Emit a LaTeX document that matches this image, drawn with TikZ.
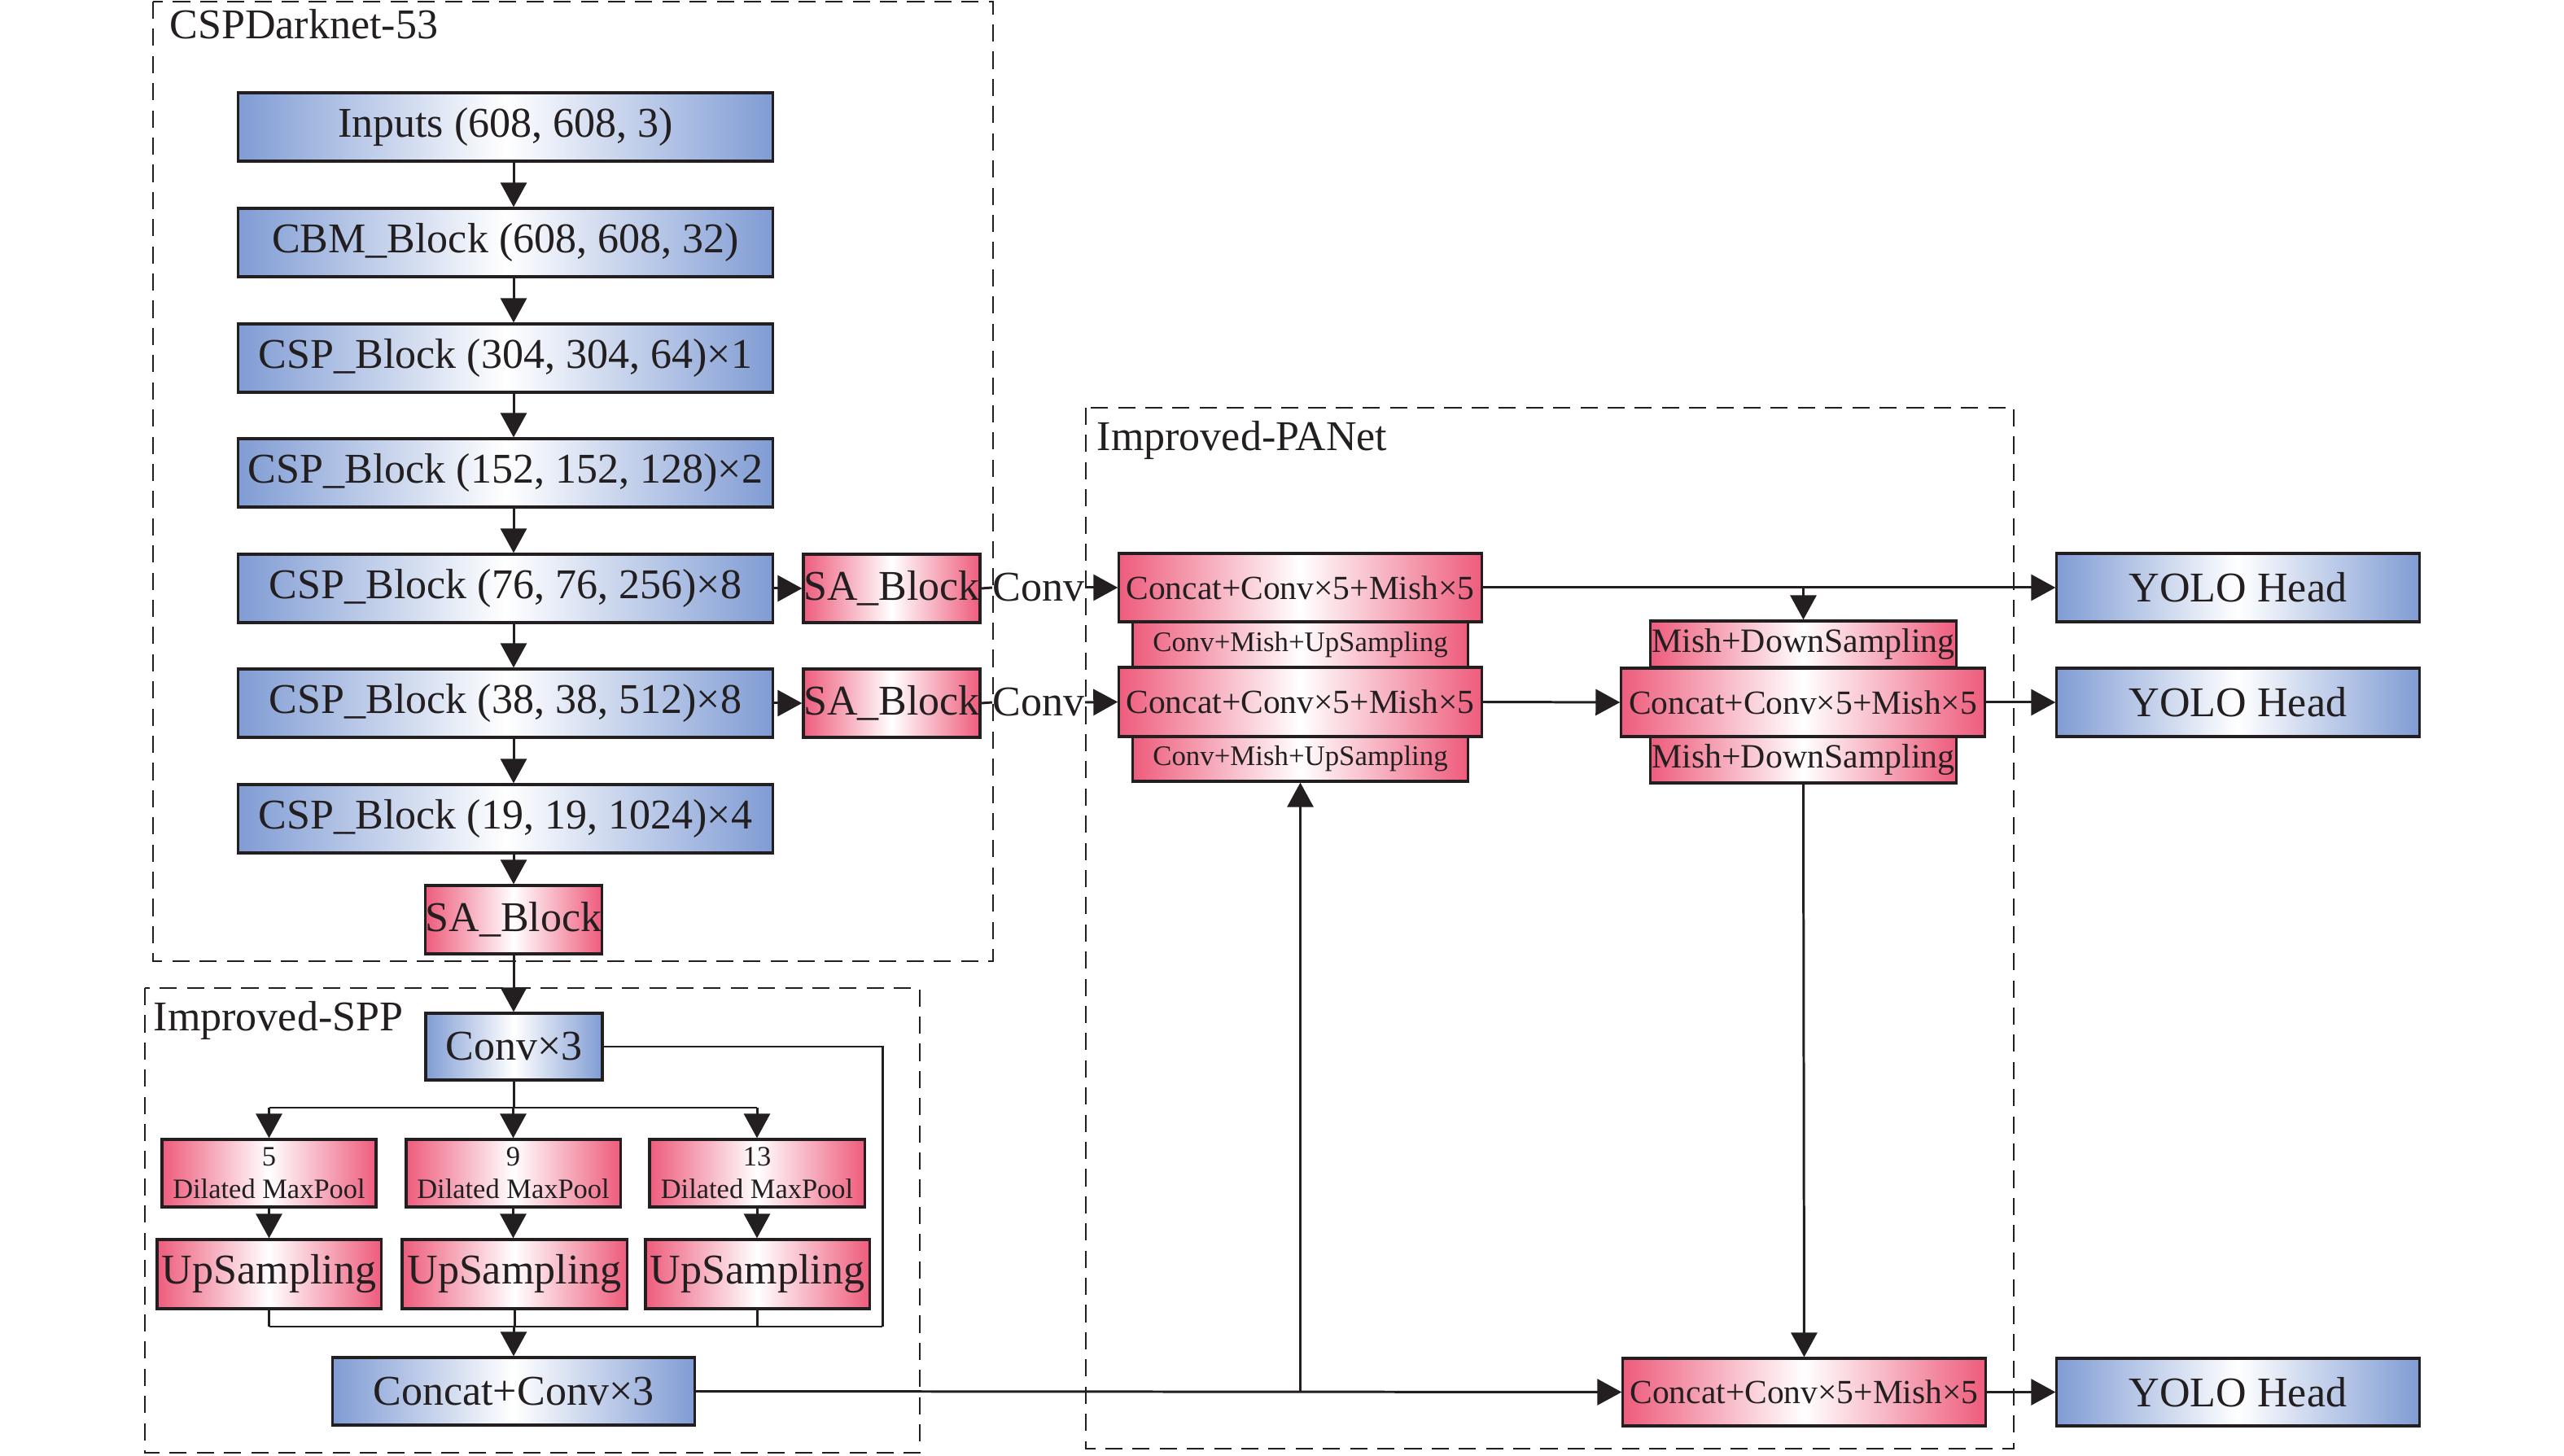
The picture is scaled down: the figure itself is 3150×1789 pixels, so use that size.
\documentclass[tikz,border=0pt]{standalone}
\usepackage{fontspec}
\setmainfont{Liberation Serif}
\usetikzlibrary{arrows.meta}
\definecolor{bl}{RGB}{128,156,212}
\definecolor{pk}{RGB}{238,92,124}
\definecolor{ln}{RGB}{35,31,32}
\newcommand\fMain{\fontsize{14.8}{17}\selectfont}
\newcommand\fPc{\fontsize{11.8}{14}\selectfont}
\newcommand\fPu{\fontsize{9.9}{12}\selectfont}
\newcommand\fMd{\fontsize{11.9}{14}\selectfont}
\newcommand\fDm{\fontsize{9.8}{11.4}\selectfont}
\tikzset{
  box/.style={draw=ln, line width=0.9pt, inner sep=0pt, align=center, text=ln},
  bbox/.style={box, left color=bl, right color=bl, middle color=white, font=\fMain},
  pbox/.style={box, left color=pk, right color=pk, middle color=white},
  colbox/.style={bbox, minimum width=6.56cm, minimum height=0.84cm},
  sabox/.style={pbox, font=\fMain, minimum width=2.17cm, minimum height=0.84cm},
  conn/.style={line width=0.85pt, draw=ln},
  arr/.style={conn, -{Triangle[length=0.3cm,width=0.32cm]}},
  frame/.style={draw=ln, dash pattern=on 6pt off 3.5pt, line width=0.8pt},
  lab/.style={font=\fMain, inner sep=0pt, text=ln},
}
\begin{document}
\begin{tikzpicture}[x=0.01cm, y=-0.01cm]
\useasboundingbox (0,0) rectangle (3150,1789);

% frames
\draw[frame] (188,2) rectangle (1220,1181);
\node[lab, anchor=base west] (labA) at (208,48) {CSPDarknet-53};
\draw[frame] (178,1214) rectangle (1130,1785);
\node[lab, anchor=base west] (labB) at (188,1267) {Improved-SPP};
\draw[frame] (1334,501) rectangle (2474,1780);
\node[lab, anchor=base west] (labC) at (1347,554) {Improved-PANet};

% backbone
\node[colbox] (inp)  at (621,156)  {Inputs (608, 608, 3)};
\node[colbox] (cbm)  at (621,298)  {CBM\_Block (608, 608, 32)};
\node[colbox] (csp1) at (621,440)  {CSP\_Block (304, 304, 64)×1};
\node[colbox] (csp2) at (621,581)  {CSP\_Block (152, 152, 128)×2};
\node[colbox] (csp3) at (621,723)  {CSP\_Block (76, 76, 256)×8};
\node[colbox] (csp4) at (621,864)  {CSP\_Block (38, 38, 512)×8};
\node[colbox] (csp5) at (621,1006) {CSP\_Block (19, 19, 1024)×4};
\node[sabox]  (sa5)  at (631,1130) {SA\_Block};
\node[sabox]  (sa3)  at (1095.5,723) {SA\_Block};
\node[sabox]  (sa4)  at (1095.5,864) {SA\_Block};

\draw[arr] (inp.south -| sa5) -- (cbm.north -| sa5);
\draw[arr] (cbm.south -| sa5) -- (csp1.north -| sa5);
\draw[arr] (csp1.south -| sa5) -- (csp2.north -| sa5);
\draw[arr] (csp2.south -| sa5) -- (csp3.north -| sa5);
\draw[arr] (csp3.south -| sa5) -- (csp4.north -| sa5);
\draw[arr] (csp4.south -| sa5) -- (csp5.north -| sa5);
\draw[arr] (csp5.south -| sa5) -- (sa5.north);
\draw[arr] (csp3.east) -- (sa3.west);
\draw[arr] (csp4.east) -- (sa4.west);

% SPP
\node[bbox, minimum width=2.17cm, minimum height=0.82cm] (conv3) at (631.5,1286) {Conv×3};
\node[pbox, font=\fDm, minimum width=2.63cm, minimum height=0.83cm] (dm1) at (330.5,1441.5) {5\\Dilated MaxPool};
\node[pbox, font=\fDm, minimum width=2.63cm, minimum height=0.83cm] (dm2) at (630.5,1441.5) {9\\Dilated MaxPool};
\node[pbox, font=\fDm, minimum width=2.64cm, minimum height=0.83cm] (dm3) at (930,1441.5) {13\\Dilated MaxPool};
\node[pbox, font=\fMain, minimum width=2.75cm, minimum height=0.85cm] (up1) at (330.5,1565.5) {UpSampling};
\node[pbox, font=\fMain, minimum width=2.76cm, minimum height=0.85cm] (up2) at (632,1565.5) {UpSampling};
\node[pbox, font=\fMain, minimum width=2.75cm, minimum height=0.85cm] (up3) at (930.5,1565.5) {UpSampling};
\node[bbox, minimum width=4.44cm, minimum height=0.83cm] (cc3) at (631,1709.5) {Concat+Conv×3};

\coordinate (by) at (0,1361);
\coordinate (cy) at (0,1630);
\coordinate (cR) at (1084,1630);
\draw[arr] (sa5.south) -- (conv3.north -| sa5);
\draw[conn] (conv3.south) -- (conv3.south |- by);
\draw[conn] (dm1.north |- by) -- (dm3.north |- by);
\draw[arr] (dm1.north |- by) -- (dm1.north);
\draw[arr] (dm2.north |- by) -- (dm2.north);
\draw[arr] (dm3.north |- by) -- (dm3.north);
\draw[arr] (dm1.south) -- (dm1.south |- up1.north);
\draw[arr] (dm2.south) -- (dm2.south |- up2.north);
\draw[arr] (dm3.south) -- (dm3.south |- up3.north);
\draw[conn] (up1.south) -- (up1.south |- cy);
\draw[conn] (up2.south) -- (up2.south |- cy);
\draw[conn] (up3.south) -- (up3.south |- cy);
\draw[conn] (up1.south |- cy) -- (cR);
\draw[conn] (conv3.east) -| (cR);
\draw[arr] (cc3.north |- cy) -- (cc3.north);

% PANet
\node[pbox, font=\fPu, minimum width=4.11cm, minimum height=0.56cm] (pu1) at (1597.5,792) {Conv+Mish+UpSampling};
\node[pbox, font=\fPu, minimum width=4.11cm, minimum height=0.55cm] (pu2) at (1597.5,932.5) {Conv+Mish+UpSampling};
\node[pbox, font=\fPc, minimum width=4.45cm, minimum height=0.84cm] (pc1) at (1597.5,722) {Concat+Conv×5+Mish×5};
\node[pbox, font=\fPc, minimum width=4.45cm, minimum height=0.85cm] (pc2) at (1597.5,862.5) {Concat+Conv×5+Mish×5};
\node[pbox, font=\fMd, minimum width=3.75cm, minimum height=0.57cm] (md1) at (2215.5,791.5) {Mish+DownSampling};
\node[pbox, font=\fMd, minimum width=3.75cm, minimum height=0.57cm] (md2) at (2215.5,933.5) {Mish+DownSampling};
\node[pbox, font=\fPc, minimum width=4.46cm, minimum height=0.84cm] (pc3) at (2215,863) {Concat+Conv×5+Mish×5};
\node[pbox, font=\fPc, minimum width=4.45cm, minimum height=0.83cm] (pc4) at (2216.5,1710.5) {Concat+Conv×5+Mish×5};

\node[bbox, minimum width=4.45cm, minimum height=0.84cm] (yolo1) at (2749.5,722) {YOLO Head};
\node[bbox, minimum width=4.45cm, minimum height=0.84cm] (yolo2) at (2749.5,863) {YOLO Head};
\node[bbox, minimum width=4.45cm, minimum height=0.83cm] (yolo3) at (2749.5,1710.5) {YOLO Head};

\node[lab] (cv3) at (1276,722) {Conv};
\node[lab] (cv4) at (1276,863) {Conv};
\draw[conn] (sa3.east) -- (cv3.west);
\draw[arr] (cv3.east) -- (pc1.west);
\draw[conn] (sa4.east) -- (cv4.west);
\draw[arr] (cv4.east) -- (pc2.west);

\draw[arr] (pc1.east) -- (yolo1.west);
\draw[arr] (pc1.east -| md1.north) -- (md1.north);
\draw[arr] (pc2.east) -- (pc3.west);
\draw[arr] (pc3.east) -- (yolo2.west);
\draw[arr] (md2.south) -- (pc4.north);
\draw[arr] (pc4.east) -- (yolo3.west);
\draw[arr] (cc3.east) -- (pc4.west);
\draw[arr] (cc3.east -| pu2.south) -- (pu2.south);
\end{tikzpicture}
\end{document}
